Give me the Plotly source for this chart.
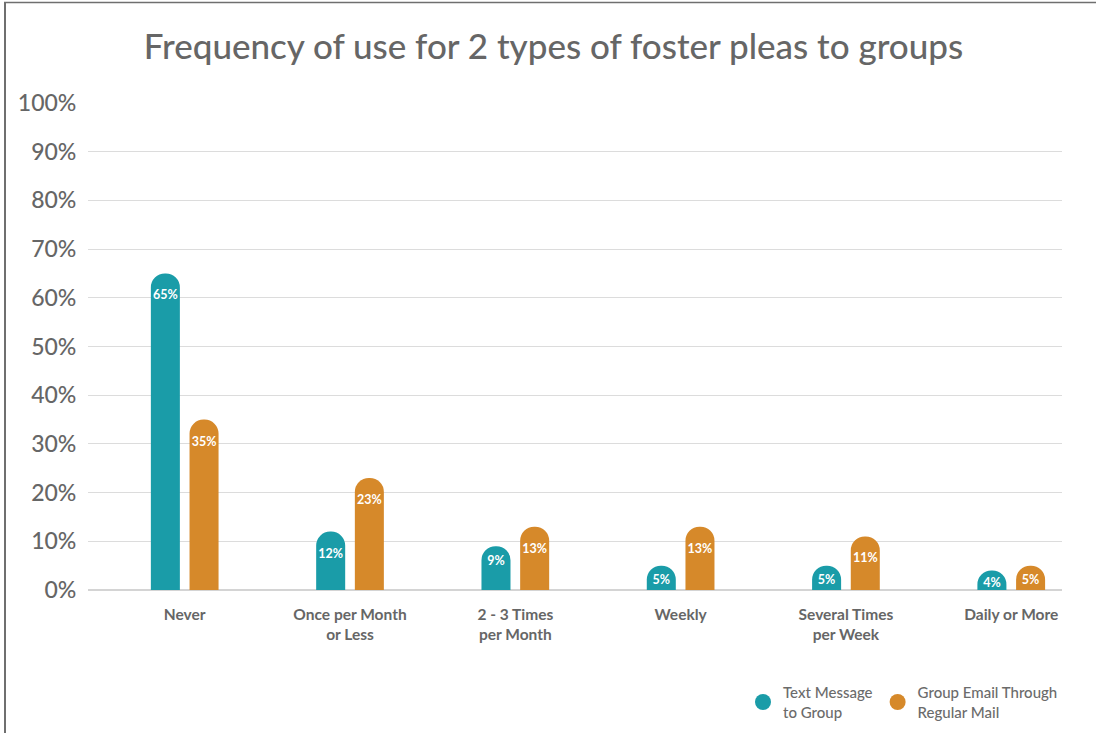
import plotly.graph_objects as go

# Survey data: share of respondents by frequency of use
categories = ["Never", "Once per Month<br>or Less", "2 - 3 Times<br>per Month",
              "Weekly", "Several Times<br>per Week", "Daily or More"]
text_message = [65, 12, 9, 5, 5, 4]
group_email = [35, 23, 13, 13, 11, 5]
series_names = ["Text Message<br>to Group", "Group Email Through<br>Regular Mail"]
y_ticks = [0, 10, 20, 30, 40, 50, 60, 70, 80, 90, 100]
y_tick_labels = [f"{v}%" for v in y_ticks]

TEAL = "#1a9ca8"
ORANGE = "#d6892a"
GRAY = "#666666"
FONT = "Lato"

W, H = 1096, 733
ML, MR, MT, MB = 88, 34, 103, 143

x_pos = list(range(len(categories)))

fig = go.Figure()
for vals, color in [(text_message, TEAL), (group_email, ORANGE)]:
    fig.add_trace(go.Bar(
        x=x_pos, y=vals,
        marker=dict(color=color, line=dict(width=0)),
        texttemplate="<b>%{y}%</b>",
        textposition="inside",
        insidetextanchor="end",
        textangle=0,
        constraintext="none",
        textfont=dict(family=FONT, size=12.5, color="white"),
        showlegend=False,
        hoverinfo="skip",
    ))

# Legend entries with round markers
for name, color in zip(series_names, [TEAL, ORANGE]):
    fig.add_trace(go.Scatter(
        x=[None], y=[None], mode="markers", name=name,
        marker=dict(symbol="circle", size=16, color=color),
    ))

# Thin frame along the top and left edges
def px_x(p):
    return (p - ML) / (W - ML - MR)

def px_y(p):
    return 1 - (p - MT) / (H - MT - MB)

fig.add_shape(type="line", xref="paper", yref="paper",
              x0=px_x(5), x1=px_x(5), y0=px_y(2), y1=px_y(H + 5),
              line=dict(color="#6f6f6f", width=2))
fig.add_shape(type="line", xref="paper", yref="paper",
              x0=px_x(4), x1=px_x(W + 5), y0=px_y(2.5), y1=px_y(2.5),
              line=dict(color="#6f6f6f", width=1.5))

fig.update_layout(
    width=W, height=H,
    margin=dict(l=ML, r=MR, t=MT, b=MB, autoexpand=False),
    paper_bgcolor="white", plot_bgcolor="white",
    barmode="group", bargap=0.532, bargroupgap=0.25,
    barcornerradius="50%",
    uniformtext=dict(minsize=12.5, mode="show"),
    font=dict(family=FONT, color=GRAY),
    title=dict(
        text="Frequency of use for 2 types of foster pleas to groups",
        x=0.505, xanchor="center", y=1 - 47 / H, yanchor="middle",
        font=dict(family=FONT, size=35, color="#666666", weight=500),
    ),
    xaxis=dict(
        range=[-0.585, 5.307],
        tickmode="array", tickvals=x_pos, ticktext=[f"<b>{c}</b>" for c in categories],
        tickfont=dict(family=FONT, size=15.5, color=GRAY),
        ticks="outside", ticklen=10, tickcolor="rgba(0,0,0,0)",
        showgrid=False, zeroline=False, showline=False,
        fixedrange=True,
    ),
    yaxis=dict(
        range=[0, 100],
        tickmode="array", tickvals=y_ticks, ticktext=y_tick_labels,
        tickfont=dict(family=FONT, size=23, color=GRAY, weight=500),
        ticks="outside", ticklen=6, tickcolor="rgba(0,0,0,0)",
        showgrid=True, gridcolor="#dcdcdc", gridwidth=1,
        zeroline=True, zerolinecolor="#d4d4d4", zerolinewidth=1.5,
        showline=False, fixedrange=True,
    ),
    legend=dict(
        orientation="h", x=px_x(743), xanchor="left",
        y=px_y(676), yanchor="top",
        font=dict(family=FONT, size=15, color="#6b6b6b", weight=500),
        itemwidth=30, tracegroupgap=0,
        bgcolor="rgba(0,0,0,0)",
    ),
)

fig.write_html("out.html")
